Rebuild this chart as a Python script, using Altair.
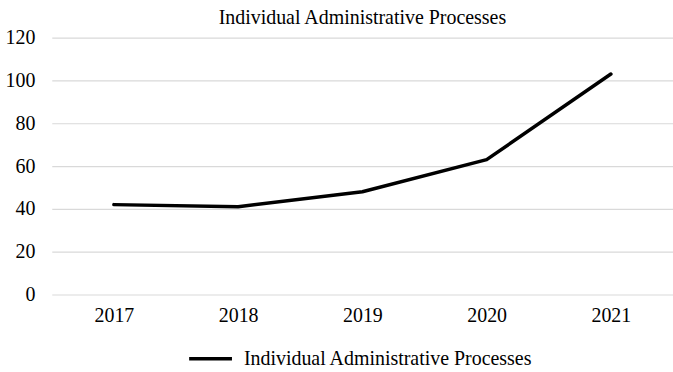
import altair as alt
import pandas as pd

years = ["2017", "2018", "2019", "2020", "2021"]
values = [42, 41, 48, 63, 103]
series_name = "Individual Administrative Processes"
y_ticks = [0, 20, 40, 60, 80, 100, 120]

df = pd.DataFrame({"year": years, "value": values, "series": [series_name] * len(years)})

FONT = "Liberation Serif"
FS = 20

chart = alt.Chart(df).mark_line(strokeWidth=3.5, strokeCap="round", strokeJoin="round").encode(
    x=alt.X("year:O", title=None,
            scale=alt.Scale(type="point", padding=0.5),
            axis=alt.Axis(labelAngle=0, ticks=False, domain=False, grid=False,
                          labelFontSize=FS, labelPadding=11, labelColor="#000", labelFont=FONT)),
    y=alt.Y("value:Q", title=None,
            scale=alt.Scale(domain=[0, 120], nice=False),
            axis=alt.Axis(values=y_ticks, ticks=False, domain=False, gridColor="#d9d9d9",
                          gridWidth=1.2, labelFontSize=FS, labelPadding=17,
                          labelColor="#000", labelFont=FONT)),
    color=alt.Color("series:N", title=None,
                    scale=alt.Scale(range=["#000000"]),
                    legend=alt.Legend(orient="none", legendX=136, legendY=299,
                                      symbolType="stroke", symbolSize=1850,
                                      symbolStrokeWidth=3.5, labelFontSize=FS, labelFont=FONT,
                                      labelColor="#000", labelLimit=0, labelOffset=10)),
).properties(
    width=624, height=258,
    title=alt.Title(series_name, font=FONT, fontSize=FS, fontWeight="normal", color="#000",
                    offset=0),
    autosize=alt.AutoSizeParams(type="none"),
    padding={"left": 52, "top": 37, "right": 0, "bottom": 77},
).configure_view(stroke=None)

chart.save("out.html", embed_options={"renderer": "svg", "actions": False})
